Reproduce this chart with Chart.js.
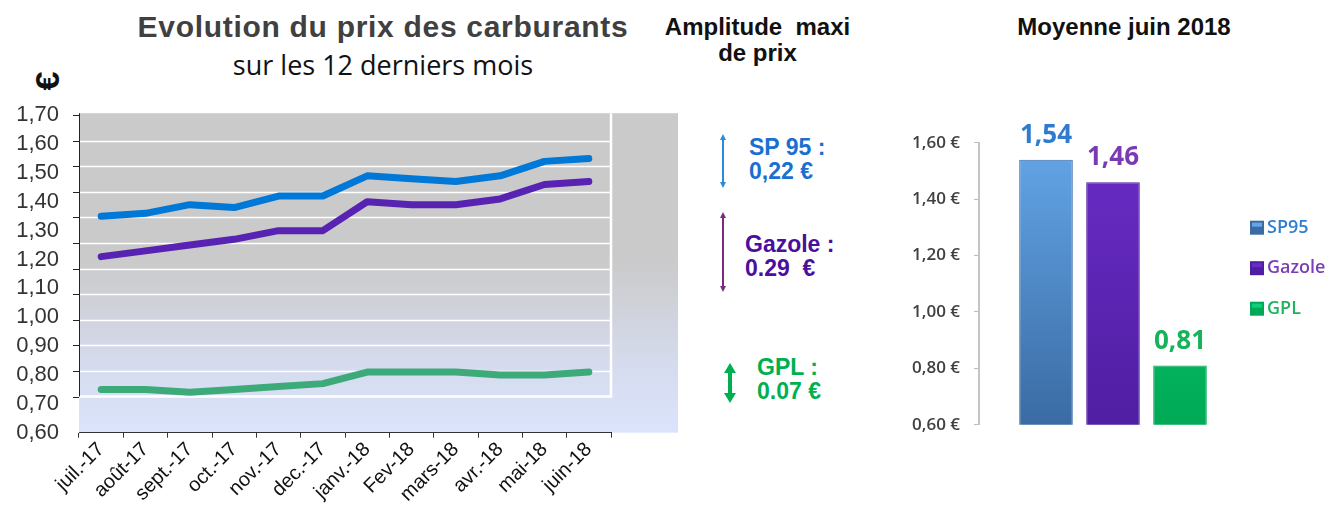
<!DOCTYPE html>
<html lang="fr">
<head>
<meta charset="utf-8">
<title>Evolution du prix des carburants</title>
<script src="https://cdn.jsdelivr.net/npm/chart.js@4.4.1/dist/chart.umd.min.js"></script>
<style>
  html, body { margin: 0; padding: 0; background: #fff; }
  body { width: 1333px; height: 507px; position: relative; overflow: hidden;
         font-family: "Liberation Sans", Arial, sans-serif; }
  .abs { position: absolute; line-height: 1; white-space: nowrap; }
  #title { left: 83px; top: 12px; width: 600px; text-align: center; font-weight: bold;
           font-size: 30px; letter-spacing: 0.7px; color: #404040; }
  #subtitle { left: 83px; top: 51px; width: 600px; text-align: center;
              font-family: "Open Sans", sans-serif; font-size: 27px; color: #111; }
  #euro { left: 30px; top: 64px; width: 34px; height: 34px; text-align: center;
          font-weight: bold; font-size: 34px; transform: rotate(-90deg); color: #111; }
  .head { font-weight: bold; font-size: 24px; color: #111; text-align: center; line-height: 26px; }
  #amp { left: 640px; top: 14px; width: 235px; }
  #moy { left: 1004px; top: 14px; width: 240px; }
  .amp { font-weight: bold; font-size: 23px; line-height: 24px; }
  #lineBox { left: 0; top: 90px; width: 690px; height: 417px; }
  #barBox { left: 890px; top: 100px; width: 443px; height: 349px; }
  svg.arrows { position: absolute; left: 0; top: 0; }
</style>
</head>
<body>
<div class="abs" id="title">Evolution du prix des carburants</div>
<div class="abs" id="subtitle">sur les 12 derniers mois</div>
<div class="abs" id="euro">€</div>

<div class="abs head" id="amp">Amplitude&nbsp; maxi<br>de prix</div>
<div class="abs head" id="moy">Moyenne juin 2018</div>

<svg class="arrows" width="1333" height="507">
  <defs>
    <marker id="hb" markerWidth="6" markerHeight="6" refX="3" refY="3" orient="auto-start-reverse" markerUnits="userSpaceOnUse">
      <path d="M0,0 L6,3 L0,6 z" fill="#2b8bd6"/>
    </marker>
    <marker id="hp" markerWidth="6" markerHeight="6" refX="3" refY="3" orient="auto-start-reverse" markerUnits="userSpaceOnUse">
      <path d="M0,0 L6,3 L0,6 z" fill="#7b2a80"/>
    </marker>
    <marker id="hg" markerWidth="10" markerHeight="12" refX="5" refY="6" orient="auto-start-reverse" markerUnits="userSpaceOnUse">
      <path d="M0,0 L10,6 L0,12 z" fill="#00b050"/>
    </marker>
  </defs>
  <line x1="723" y1="137" x2="723" y2="185" stroke="#2b8bd6" stroke-width="2" marker-start="url(#hb)" marker-end="url(#hb)"/>
  <line x1="723" y1="215" x2="723" y2="289" stroke="#7b2a80" stroke-width="2" marker-start="url(#hp)" marker-end="url(#hp)"/>
  <line x1="730" y1="368" x2="730" y2="398" stroke="#00b050" stroke-width="4" marker-start="url(#hg)" marker-end="url(#hg)"/>
</svg>

<div class="abs amp" style="left:749px; top:135px; color:#1a6fd2;">SP 95 :<br>0,22 €</div>
<div class="abs amp" style="left:745px; top:232px; color:#4a0f9e;">Gazole :<br>0.29&nbsp; €</div>
<div class="abs amp" style="left:757px; top:355px; color:#00b050;">GPL :<br>0.07 €</div>

<div class="abs" id="lineBox"><canvas id="lineChart"></canvas></div>
<div class="abs" id="barBox"><canvas id="barChart"></canvas></div>

<script>
// prix mensuels (€/l)
const months = ['juil.-17', 'août-17', 'sept.-17', 'oct.-17', 'nov.-17', 'dec.-17',
                'janv.-18', 'Fev-18', 'mars-18', 'avr.-18', 'mai-18', 'juin-18'];
const sp95   = [1.35, 1.36, 1.39, 1.38, 1.42, 1.42, 1.49, 1.48, 1.47, 1.49, 1.54, 1.55];
const gazole = [1.21, 1.23, 1.25, 1.27, 1.30, 1.30, 1.40, 1.39, 1.39, 1.41, 1.46, 1.47];
const gpl    = [0.75, 0.75, 0.74, 0.75, 0.76, 0.77, 0.81, 0.81, 0.81, 0.80, 0.80, 0.81];

// moyenne juin 2018
const fuels   = ['SP95', 'Gazole', 'GPL'];
const juneAvg = [1.54, 1.46, 0.81];

Chart.defaults.font.family = '"Liberation Sans", Arial, sans-serif';

const fmt = v => v.toFixed(2).replace('.', ',');

// fond gris / bleu du graphique de gauche
const plotBackground = {
    id: 'plotBackground',
    beforeDraw(chart) {
        const { ctx, chartArea: ca } = chart;
        const g = ctx.createLinearGradient(0, ca.top, 0, ca.bottom);
        g.addColorStop(0, '#cacaca');
        g.addColorStop(0.45, '#cacaca');
        g.addColorStop(0.8, '#d6dcef');
        g.addColorStop(1, '#dbe4fc');
        ctx.save();
        ctx.fillStyle = g;
        ctx.fillRect(ca.left, ca.top - 2, ca.width + 67, ca.height + 2);

        const innerBottom = ca.top + ca.height * 0.886;
        ctx.strokeStyle = '#ffffff';
        ctx.lineWidth = 1.5;
        for (let k = 1; k <= 10; k++) {
            const y = Math.round(ca.top + k * (innerBottom - ca.top) / 11) + 0.5;
            ctx.beginPath();
            ctx.moveTo(ca.left, y);
            ctx.lineTo(ca.right, y);
            ctx.stroke();
        }
        ctx.lineWidth = 2.5;
        ctx.beginPath();
        ctx.moveTo(ca.right, ca.top - 2);
        ctx.lineTo(ca.right, innerBottom);
        ctx.lineTo(ca.left, innerBottom);
        ctx.stroke();

        // axe vertical + graduations
        ctx.strokeStyle = '#222';
        ctx.lineWidth = 1;
        ctx.beginPath();
        ctx.moveTo(ca.left + 0.5, ca.top - 2);
        ctx.lineTo(ca.left + 0.5, innerBottom);
        for (let k = 0; k <= 11; k++) {
            const y = Math.round(ca.top + k * (innerBottom - ca.top) / 11) + 0.5;
            ctx.moveTo(ca.left - 6, y);
            ctx.lineTo(ca.left, y);
        }
        ctx.stroke();
        ctx.restore();
    }
};

new Chart(document.getElementById('lineChart'), {
    type: 'line',
    data: {
        labels: months,
        datasets: [
            { label: 'SP 95', data: sp95, borderColor: '#0078d7' },
            { label: 'Gazole', data: gazole, borderColor: '#5823b2' },
            { label: 'GPL', data: gpl, borderColor: '#3daa7a' }
        ].map(ds => Object.assign(ds, {
            borderWidth: 7,
            pointRadius: 0,
            borderCapStyle: 'round',
            borderJoinStyle: 'round',
            tension: 0
        }))
    },
    options: {
        responsive: true,
        maintainAspectRatio: false,
        animation: false,
        layout: { padding: { top: 11, right: 79, left: 0, bottom: 0 } },
        plugins: { legend: { display: false }, tooltip: { enabled: false } },
        scales: {
            x: {
                offset: true,
                grid: { offset: true, drawOnChartArea: false, tickLength: 5, color: '#333' },
                border: { color: '#333' },
                ticks: { color: '#111', font: { size: 20 }, minRotation: 45, maxRotation: 45, padding: 0, autoSkip: false },
                afterFit: s => { s.height = 74.3; }
            },
            y: {
                min: 0.6,
                max: 1.7,
                grid: { display: false },
                border: { display: false },
                ticks: { stepSize: 0.1, autoSkip: false, color: '#333', font: { size: 22 }, padding: 12, callback: v => fmt(v) },
                afterFit: s => { s.width = 79; }
            }
        }
    },
    plugins: [plotBackground]
});

// graphique de droite
const barTop    = ['#64a6e8', '#6a2cc6', '#0fd078'];
const barBottom = ['#3a6ba3', '#4f1ea2', '#00a956'];
const valueColors  = ['#2e7bcf', '#7b3ab5', '#17b35a'];
const legendColors = ['#2f7fd0', '#7b3fb5', '#1fb35f'];

const valueLabels = {
    id: 'valueLabels',
    afterDatasetsDraw(chart) {
        const ctx = chart.ctx;
        ctx.save();
        ctx.font = 'bold 26px "Open Sans", sans-serif';
        ctx.textAlign = 'center';
        ctx.textBaseline = 'alphabetic';
        chart.data.datasets.forEach((ds, i) => {
            const bar = chart.getDatasetMeta(i).data[0];
            ctx.fillStyle = valueColors[i];
            ctx.fillText(fmt(ds.data[0]), bar.x, bar.y - 17);
        });
        ctx.restore();
    }
};

// légende à droite du graphique
const sideLegend = {
    id: 'sideLegend',
    afterDraw(chart) {
        const { ctx, chartArea: ca } = chart;
        ctx.save();
        ctx.font = '600 18px "Open Sans", sans-serif';
        ctx.textBaseline = 'middle';
        chart.data.datasets.forEach((ds, i) => {
            const y = ca.top + 85 + i * 40.5;
            const x = ca.right + 3;
            ctx.fillStyle = barBottom[i];
            ctx.fillRect(x, y - 7, 14, 14);
            ctx.fillStyle = barTop[i];
            ctx.fillRect(x + 2, y - 5, 10, 4);
            ctx.fillStyle = legendColors[i];
            ctx.fillText(ds.label, x + 17, y);
        });
        ctx.restore();
    }
};

const barFill = i => ctx => {
    const ca = ctx.chart.chartArea;
    if (!ca) return barTop[i];
    const g = ctx.chart.ctx.createLinearGradient(0, ca.top, 0, ca.bottom);
    g.addColorStop(0, barTop[i]);
    g.addColorStop(1, barBottom[i]);
    return g;
};

new Chart(document.getElementById('barChart'), {
    type: 'bar',
    data: {
        labels: ['Moyenne juin 2018'],
        datasets: fuels.map((f, i) => ({
            label: f,
            data: [juneAvg[i]],
            backgroundColor: barFill(i),
            borderColor: barBottom[i],
            borderWidth: 1,
            barPercentage: 0.8,
            categoryPercentage: 0.75
        }))
    },
    options: {
        responsive: true,
        maintainAspectRatio: false,
        animation: false,
        layout: { padding: { top: 42.7, bottom: 6, left: 0, right: 86 } },
        plugins: {
            tooltip: { enabled: false },
            legend: { display: false }
        },
        scales: {
            x: { display: false },
            y: {
                min: 0.6,
                max: 1.6,
                grid: { drawOnChartArea: false, tickLength: 5, color: '#bbb' },
                border: { color: '#c4c4c4', width: 2 },
                ticks: { stepSize: 0.2, color: '#404040', padding: 14,
                         font: { family: '"Open Sans", sans-serif', size: 17, weight: '600' },
                         callback: v => fmt(v) + ' €' },
                afterFit: s => { s.width = 89; }
            }
        }
    },
    plugins: [valueLabels, sideLegend]
});
</script>
</body>
</html>
